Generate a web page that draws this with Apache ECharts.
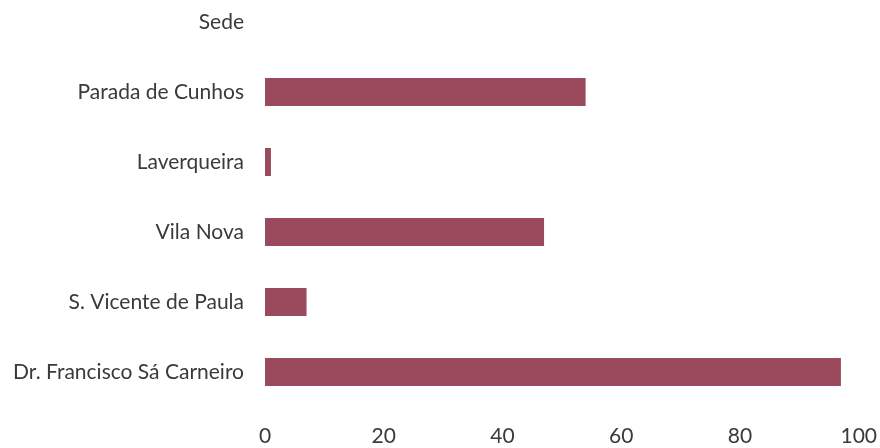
<!DOCTYPE html>
<html>
<head>
<meta charset="utf-8">
<script src="https://cdn.jsdelivr.net/npm/echarts@6/dist/echarts.min.js"></script>
<style>html,body{margin:0;padding:0;background:#fff;overflow:hidden;width:880px;height:448px;position:relative}#c{position:absolute;left:0;top:-13px;width:880px;height:461px}</style>
</head>
<body>
<div id="c"></div>
<script>
var categories = ["Dr. Francisco Sá Carneiro", "S. Vicente de Paula", "Vila Nova", "Laverqueira", "Parada de Cunhos", "Sede"];
var values = [97, 7, 47, 1, 54, 0];
var xTicks = [0, 20, 40, 60, 80, 100];

var chart = echarts.init(document.getElementById('c'), null, {renderer: 'canvas'});
chart.setOption({
  animation: false,
  backgroundColor: '#ffffff',
  textStyle: {fontFamily: 'Lato'},
  grid: {left: 265, right: 20, top: 0, bottom: 41, containLabel: false},
  xAxis: {
    type: 'value', min: xTicks[0], max: xTicks[xTicks.length - 1], interval: 20,
    axisLine: {show: false}, axisTick: {show: false}, splitLine: {show: false},
    axisLabel: {color: '#3a3a3a', fontSize: 21, fontFamily: 'Lato', margin: 19}
  },
  yAxis: {
    type: 'category', data: categories,
    axisLine: {show: false}, axisTick: {show: false},
    axisLabel: {color: '#3a3a3a', fontSize: 21, fontFamily: 'Lato', margin: 21}
  },
  series: [{
    type: 'bar', data: values, barWidth: 28,
    itemStyle: {color: '#9a4a5c'}
  }]
});
</script>
</body>
</html>
